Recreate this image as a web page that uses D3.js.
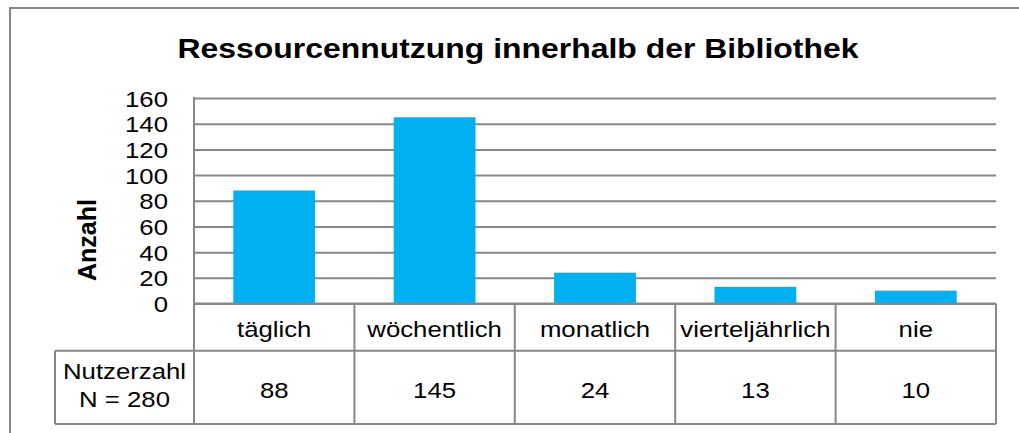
<!DOCTYPE html>
<html>
<head>
<meta charset="utf-8">
<script src="https://cdn.jsdelivr.net/npm/d3@7"></script>
<style>
  body { margin: 0; background: #fff; }
  svg text { font-family: "Liberation Sans", Arial, sans-serif; fill: #000; }
</style>
</head>
<body>
<div id="chart"></div>
<script>
const categories = ["täglich", "wöchentlich", "monatlich", "vierteljährlich", "nie"];
const values = [88, 145, 24, 13, 10];
const yTicks = [0, 20, 40, 60, 80, 100, 120, 140, 160];
const title = "Ressourcennutzung innerhalb der Bibliothek";
const yLabel = "Anzahl";
const rowHeader = ["Nutzerzahl", "N = 280"];

const w = 1019;
const h = 433;
const SX = 1.12; // text looks horizontally stretched in the source
const grey = "#878787";
const plotL = 194, plotR = 996, plotT = 98, plotB = 303.5;
const row1 = 350.7, row2 = 424, headLeft = 55;

const svg = d3.select("#chart").append("svg")
  .attr("width", w)
  .attr("height", h);

// outer frame (runs off the right/bottom of the picture)
svg.append("rect")
  .attr("x", 10).attr("y", 8)
  .attr("width", w + 20).attr("height", h + 20)
  .attr("fill", "none")
  .attr("stroke", grey)
  .attr("stroke-width", 2);

const xScale = d3.scaleBand()
  .domain(categories)
  .range([plotL, plotR])
  .paddingInner(0.49)
  .paddingOuter(0.245);
const step = xScale.step();
const cellX = (d) => xScale(d) - step * 0.245;

const yScale = d3.scaleLinear()
  .domain([0, 160])
  .range([plotB, plotT]);

// gridlines + tick labels
const yAxis = d3.axisLeft(yScale)
  .tickValues(yTicks)
  .tickSize(-(plotR - plotL))
  .tickPadding(26 / SX);

const gy = svg.append("g")
  .attr("transform", "translate(" + plotL + ",0)")
  .call(yAxis);
gy.select(".domain").remove();
gy.selectAll(".tick line")
  .attr("stroke", grey)
  .attr("stroke-width", 2);
gy.selectAll(".tick text")
  .attr("font-size", 23)
  .attr("font-family", null)
  .attr("fill", "#000")
  .attr("dy", "0.35em")
  .attr("transform", "scale(" + SX + ",1)");

// plot left edge
svg.append("line")
  .attr("x1", plotL).attr("x2", plotL)
  .attr("y1", plotT - 1).attr("y2", plotB)
  .attr("stroke", grey).attr("stroke-width", 2);

// bars
svg.selectAll(".bar")
  .data(values)
  .enter()
  .append("rect")
  .attr("class", "bar")
  .attr("x", (d, i) => xScale(categories[i]))
  .attr("y", (d) => yScale(d))
  .attr("width", xScale.bandwidth())
  .attr("height", (d) => yScale(0) - yScale(d))
  .attr("fill", "#00B0F0");

// data table
const tbl = svg.append("g")
  .attr("stroke", grey)
  .attr("stroke-width", 2)
  .attr("fill", "none");
tbl.append("line").attr("x1", plotL).attr("x2", plotR).attr("y1", plotB).attr("y2", plotB);
tbl.append("line").attr("x1", headLeft).attr("x2", plotR).attr("y1", row1).attr("y2", row1);
tbl.append("line").attr("x1", headLeft).attr("x2", plotR).attr("y1", row2).attr("y2", row2);
tbl.append("line").attr("x1", headLeft).attr("x2", headLeft).attr("y1", row1).attr("y2", row2);
tbl.selectAll(".vline")
  .data(categories.concat(["end"]))
  .enter()
  .append("line")
  .attr("class", "vline")
  .attr("x1", (d, i) => plotL + step * i)
  .attr("x2", (d, i) => plotL + step * i)
  .attr("y1", plotB)
  .attr("y2", row2);

const stretched = (sel, x, y) => sel
  .attr("transform", "translate(" + x + "," + y + ") scale(" + SX + ",1)")
  .attr("text-anchor", "middle");

svg.selectAll(".cat")
  .data(categories)
  .enter()
  .append("text")
  .attr("class", "cat")
  .attr("font-size", 23)
  .text((d) => d)
  .each(function (d) { stretched(d3.select(this), cellX(d) + step / 2, 336.5); });

svg.selectAll(".val")
  .data(values)
  .enter()
  .append("text")
  .attr("class", "val")
  .attr("font-size", 23)
  .text((d) => d)
  .each(function (d, i) { stretched(d3.select(this), cellX(categories[i]) + step / 2, 398); });

svg.selectAll(".head")
  .data(rowHeader)
  .enter()
  .append("text")
  .attr("class", "head")
  .attr("font-size", 23)
  .text((d) => d)
  .each(function (d, i) { stretched(d3.select(this), (headLeft + plotL) / 2, 378.5 + i * 28); });

// title
stretched(svg.append("text"), 518, 58)
  .attr("font-size", 28.5)
  .attr("font-weight", "bold")
  .text(title);

// y label
svg.append("text")
  .attr("transform", "translate(96,240) rotate(-90)")
  .attr("text-anchor", "middle")
  .attr("font-size", 25)
  .attr("font-weight", "bold")
  .text(yLabel);
</script>
</body>
</html>
